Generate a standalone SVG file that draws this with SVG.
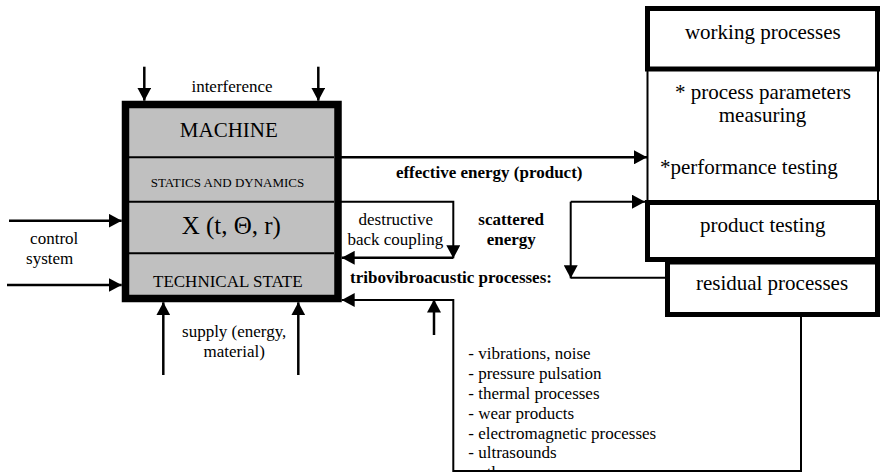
<svg xmlns="http://www.w3.org/2000/svg" width="881" height="472" viewBox="0 0 881 472" font-family="'Liberation Serif', 'Times New Roman', 'DejaVu Serif', serif">
<style>
text{font-family:'Liberation Serif','Times New Roman','DejaVu Serif',serif;fill:#000}
.b{font-weight:bold}
.m{text-anchor:middle}
.thin{fill:none;stroke:#000;stroke-width:2}
.arr{fill:none;stroke:#000;stroke-width:2.5}
.box{fill:#fff;stroke:#000;stroke-width:5}
</style>
<defs>
<marker id="ah" markerUnits="userSpaceOnUse" markerWidth="14" markerHeight="14" refX="13" refY="7" orient="auto" viewBox="0 0 14 14">
<path d="M0,0 L13,7 L0,14 z" fill="#000"/>
</marker>
</defs>
<rect width="881" height="472" fill="#fff"/>

<g id="connectors">
<line class="arr" x1="144.3" y1="66.7" x2="144.3" y2="100.7" marker-end="url(#ah)"/>
<line class="arr" x1="318.3" y1="66.7" x2="318.3" y2="100.7" marker-end="url(#ah)"/>
<line class="arr" x1="9" y1="220.7" x2="121.7" y2="220.7" marker-end="url(#ah)"/>
<line class="arr" x1="7" y1="285" x2="121.7" y2="285" marker-end="url(#ah)"/>
<line class="arr" x1="163.3" y1="375" x2="163.3" y2="302.3" marker-end="url(#ah)"/>
<line class="arr" x1="298.3" y1="375" x2="298.3" y2="302.3" marker-end="url(#ah)"/>
<line class="arr" x1="340" y1="157.3" x2="647" y2="157.3" marker-end="url(#ah)"/>
<path class="thin" d="M340,201.7 L453.3,201.7 L453.3,258.3" marker-end="url(#ah)"/>
<line class="arr" x1="453.3" y1="257.8" x2="341.7" y2="257.8" marker-end="url(#ah)"/>
<path class="thin" d="M801,316 L801,471 L453.3,471 L453.3,300 L341.7,300" marker-end="url(#ah)"/>
<line class="arr" x1="434" y1="335" x2="434" y2="299.5" marker-end="url(#ah)"/>
<path class="thin" d="M570.7,201.7 L570.7,278.3" marker-end="url(#ah)"/>
<path class="thin" d="M570.7,201.7 L645,201.7" marker-end="url(#ah)"/>
<line class="thin" x1="570.7" y1="277.7" x2="667" y2="277.7"/>
</g>

<g id="machine">
<rect x="125.5" y="104.5" width="212.5" height="194" fill="#c0c0c0" stroke="#000" stroke-width="7.5"/>
<line class="thin" x1="129" y1="157.3" x2="334" y2="157.3"/>
<line class="thin" x1="129" y1="201.7" x2="334" y2="201.7"/>
<line class="thin" x1="129" y1="253.3" x2="334" y2="253.3"/>
<text class="m" x="228.8" y="136.7" font-size="21">MACHINE</text>
<text class="m" x="227.5" y="186.7" font-size="13">STATICS AND DYNAMICS</text>
<text class="m" x="231.3" y="234.3" font-size="25">X (t, Θ, r)</text>
<text class="m" x="227.8" y="287.3" font-size="17">TECHNICAL STATE</text>
</g>

<g id="labels-left">
<text class="m" x="232" y="91.7" font-size="17">interference</text>
<text class="m" x="54.2" y="244" font-size="17">control</text>
<text class="m" x="49.7" y="264" font-size="17">system</text>
<text class="m" x="234.2" y="336.7" font-size="17">supply (energy,</text>
<text class="m" x="234.2" y="356.7" font-size="17">material)</text>
</g>

<g id="labels-mid">
<text class="m b" x="489.2" y="178.3" font-size="17">effective energy (product)</text>
<text class="m" x="395.8" y="225" font-size="17">destructive</text>
<text class="m" x="395.3" y="245" font-size="17">back coupling</text>
<text class="m b" x="511.2" y="225" font-size="17">scattered</text>
<text class="m b" x="511.3" y="245" font-size="17">energy</text>
<text class="b" x="350" y="282.7" font-size="17">tribovibroacustic processes:</text>
</g>

<g id="list">
<text x="468.3" y="359.3" font-size="17">- vibrations, noise</text>
<text x="468.3" y="379.1" font-size="17">- pressure pulsation</text>
<text x="468.3" y="398.9" font-size="17">- thermal processes</text>
<text x="468.3" y="418.7" font-size="17">- wear products</text>
<text x="468.3" y="438.5" font-size="17">- electromagnetic processes</text>
<text x="468.3" y="458.3" font-size="17">- ultrasounds</text>
<text x="468.3" y="478.1" font-size="17">- others</text>
</g>

<g id="working-processes">
<line class="thin" x1="647.5" y1="69" x2="647.5" y2="202"/>
<line class="thin" x1="878" y1="69" x2="878" y2="202"/>
<rect class="box" x="647.5" y="8.5" width="230" height="60.5"/>
<text class="m" x="762.8" y="39.3" font-size="21">working processes</text>
<text class="m" x="763" y="99.3" font-size="21">* process parameters</text>
<text class="m" x="762.5" y="121.7" font-size="21">measuring</text>
<text x="660" y="174" font-size="21">*performance testing</text>
</g>

<g id="product-testing">
<rect class="box" x="647.5" y="202.5" width="230" height="57"/>
<text class="m" x="762.7" y="232" font-size="21">product testing</text>
</g>

<g id="residual-processes">
<rect class="box" x="667.5" y="262" width="210" height="52.5"/>
<text class="m" x="772" y="290" font-size="21">residual processes</text>
</g>
</svg>
